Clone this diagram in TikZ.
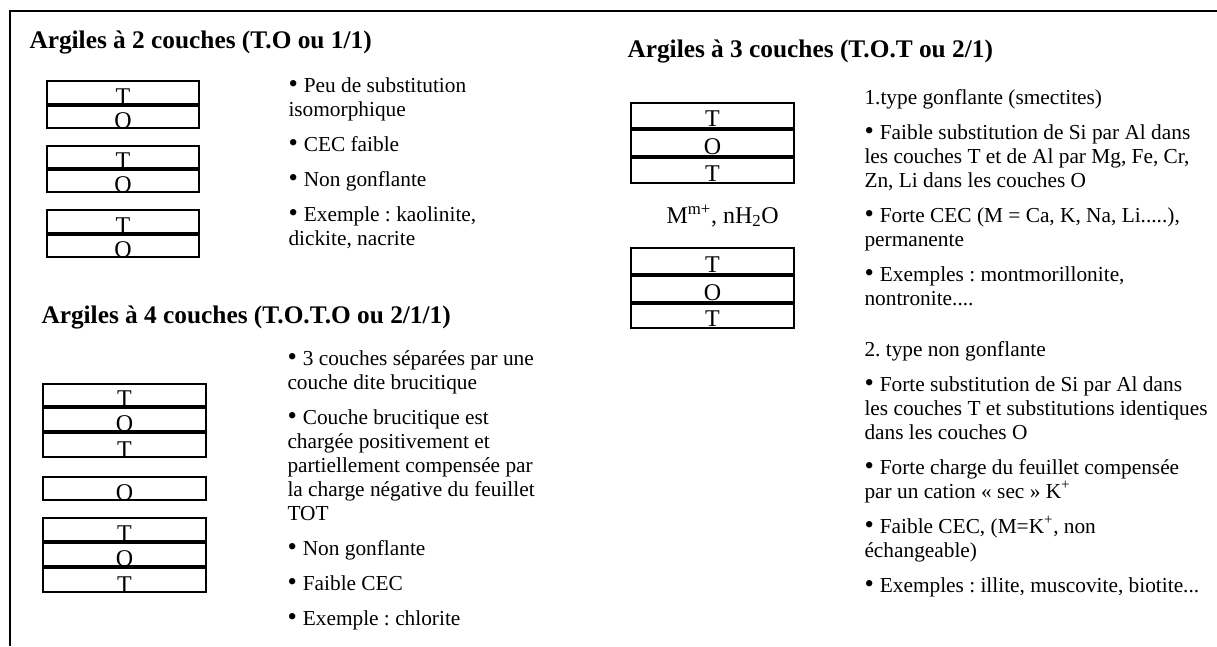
\documentclass[tikz,border=0pt]{standalone}
\usepackage{fontspec}
\setmainfont{Liberation Serif}
\frenchspacing
\newcommand{\puce}{{\fontsize{20}{20}\selectfont\textbullet}\hspace{4.5pt}}

\tikzset{every picture/.style={line width=0.75pt}}
\tikzset{titre/.style={font=\fontsize{19}{22}\selectfont\bfseries},
  texte/.style={font=\fontsize{16}{18}\selectfont, align=left},
  lettre/.style={font=\fontsize{18}{20}\selectfont}}

\begin{document}
\begin{tikzpicture}[x=0.75pt,y=0.75pt,yscale=-1,xscale=1]
\useasboundingbox (0,0) rectangle (1217,646);

%Straight Lines [id:cadre]
\draw [line width=1.5]  (10,646) -- (10,11) -- (1217,11) ;

%Shape: Rectangle [id:argile2a]
\draw [line width=1.5]  (47,81) -- (199,81) -- (199,104) -- (47,104) -- cycle ;
\draw [line width=1.5]  (47,106) -- (199,106) -- (199,128) -- (47,128) -- cycle ;
%Shape: Rectangle [id:argile2b]
\draw [line width=1.5]  (47,146) -- (199,146) -- (199,168) -- (47,168) -- cycle ;
\draw [line width=1.5]  (47,170) -- (199,170) -- (199,192) -- (47,192) -- cycle ;
%Shape: Rectangle [id:argile2c]
\draw [line width=1.5]  (47,210) -- (199,210) -- (199,233) -- (47,233) -- cycle ;
\draw [line width=1.5]  (47,235) -- (199,235) -- (199,257) -- (47,257) -- cycle ;

%Shape: Rectangle [id:argile4a]
\draw [line width=1.5]  (43,384) -- (206,384) -- (206,406) -- (43,406) -- cycle ;
\draw [line width=1.5]  (43,408) -- (206,408) -- (206,431) -- (43,431) -- cycle ;
\draw [line width=1.5]  (43,433) -- (206,433) -- (206,457) -- (43,457) -- cycle ;
%Shape: Rectangle [id:argile4b]
\draw [line width=1.5]  (43,477) -- (206,477) -- (206,500) -- (43,500) -- cycle ;
%Shape: Rectangle [id:argile4c]
\draw [line width=1.5]  (43,518) -- (206,518) -- (206,541) -- (43,541) -- cycle ;
\draw [line width=1.5]  (43,543) -- (206,543) -- (206,566) -- (43,566) -- cycle ;
\draw [line width=1.5]  (43,568) -- (206,568) -- (206,592) -- (43,592) -- cycle ;

%Shape: Rectangle [id:argile3a]
\draw [line width=1.5]  (631,103) -- (794,103) -- (794,128) -- (631,128) -- cycle ;
\draw [line width=1.5]  (631,130) -- (794,130) -- (794,156) -- (631,156) -- cycle ;
\draw [line width=1.5]  (631,158) -- (794,158) -- (794,183) -- (631,183) -- cycle ;
%Shape: Rectangle [id:argile3b]
\draw [line width=1.5]  (631,248) -- (794,248) -- (794,274) -- (631,274) -- cycle ;
\draw [line width=1.5]  (631,276) -- (794,276) -- (794,302) -- (631,302) -- cycle ;
\draw [line width=1.5]  (631,304) -- (794,304) -- (794,328) -- (631,328) -- cycle ;

% Text Node
\draw (28,48) node (titre2c) [anchor=base west][inner sep=0.75pt] [titre] {Argiles à 2 couches (T.O ou 1/1)};
% Text Node
\draw (40,323) node (titre4c) [anchor=base west][inner sep=0.75pt] [titre] {Argiles à 4 couches (T.O.T.O ou 2/1/1)};
% Text Node
\draw (626,57) node (titre3c) [anchor=base west][inner sep=0.75pt] [titre] {Argiles à 3 couches (T.O.T ou 2/1)};

% Text Node
\draw (123,104) node (l2aT) [anchor=base][inner sep=0.75pt] [lettre] {T};
\draw (123,128) node (l2aO) [anchor=base][inner sep=0.75pt] [lettre] {O};
\draw (123,168) node (l2bT) [anchor=base][inner sep=0.75pt] [lettre] {T};
\draw (123,192) node (l2bO) [anchor=base][inner sep=0.75pt] [lettre] {O};
\draw (123,233) node (l2cT) [anchor=base][inner sep=0.75pt] [lettre] {T};
\draw (123,257) node (l2cO) [anchor=base][inner sep=0.75pt] [lettre] {O};
% Text Node
\draw (124.5,406) node (l4aT) [anchor=base][inner sep=0.75pt] [lettre] {T};
\draw (124.5,431) node (l4aO) [anchor=base][inner sep=0.75pt] [lettre] {O};
\draw (124.5,457) node (l4aT2) [anchor=base][inner sep=0.75pt] [lettre] {T};
\draw (124.5,500) node (l4bO) [anchor=base][inner sep=0.75pt] [lettre] {O};
\draw (124.5,541) node (l4cT) [anchor=base][inner sep=0.75pt] [lettre] {T};
\draw (124.5,566) node (l4cO) [anchor=base][inner sep=0.75pt] [lettre] {O};
\draw (124.5,592) node (l4cT2) [anchor=base][inner sep=0.75pt] [lettre] {T};
% Text Node
\draw (712.5,126) node (l3aT) [anchor=base][inner sep=0.75pt] [lettre] {T};
\draw (712.5,154) node (l3aO) [anchor=base][inner sep=0.75pt] [lettre] {O};
\draw (712.5,181) node (l3aT2) [anchor=base][inner sep=0.75pt] [lettre] {T};
\draw (712.5,272) node (l3bT) [anchor=base][inner sep=0.75pt] [lettre] {T};
\draw (712.5,300) node (l3bO) [anchor=base][inner sep=0.75pt] [lettre] {O};
\draw (712.5,326) node (l3bT2) [anchor=base][inner sep=0.75pt] [lettre] {T};
% Text Node
\draw (665,223) node (cation) [anchor=base west][inner sep=0.75pt] [lettre] {M\textsuperscript{m+}, nH\textsubscript{2}O};

% Text Node
\draw (287,245) node (puces2c) [anchor=base west][inner sep=0.75pt] [texte] {\puce Peu de substitution\\isomorphique\\[8.25pt]\puce CEC faible\\[8.25pt]\puce Non gonflante\\[8.25pt]\puce Exemple : kaolinite,\\dickite, nacrite};
% Text Node
\draw (286,625) node (puces4c) [anchor=base west][inner sep=0.75pt] [texte] {\puce 3 couches séparées par une\\couche dite brucitique\\[8.25pt]\puce Couche brucitique est\\chargée positivement et\\partiellement compensée par\\la charge négative du feuillet\\TOT\\[8.25pt]\puce Non gonflante\\[8.25pt]\puce Faible CEC\\[8.25pt]\puce Exemple : chlorite};
% Text Node
\draw (863,305) node (puces3g) [anchor=base west][inner sep=0.75pt] [texte] {1.type gonflante (smectites)\\[8.25pt]\puce Faible substitution de Si par Al dans\\les couches T et de Al par Mg, Fe, Cr,\\Zn, Li dans les couches O\\[8.25pt]\puce Forte CEC (M = Ca, K, Na, Li.....),\\permanente\\[8.25pt]\puce Exemples : montmorillonite,\\nontronite....};
% Text Node
\draw (863,592) node (puces3n) [anchor=base west][inner sep=0.75pt] [texte] {2. type non gonflante\\[8.25pt]\puce Forte substitution de Si par Al dans\\les couches T et substitutions identiques\\dans les couches O\\[8.25pt]\puce Forte charge du feuillet compensée\\par un cation «~sec~» K\textsuperscript{+}\\[8.25pt]\puce Faible CEC, (M=K\textsuperscript{+}, non\\échangeable)\\[8.25pt]\puce Exemples : illite, muscovite, biotite...};

\end{tikzpicture}
\end{document}
